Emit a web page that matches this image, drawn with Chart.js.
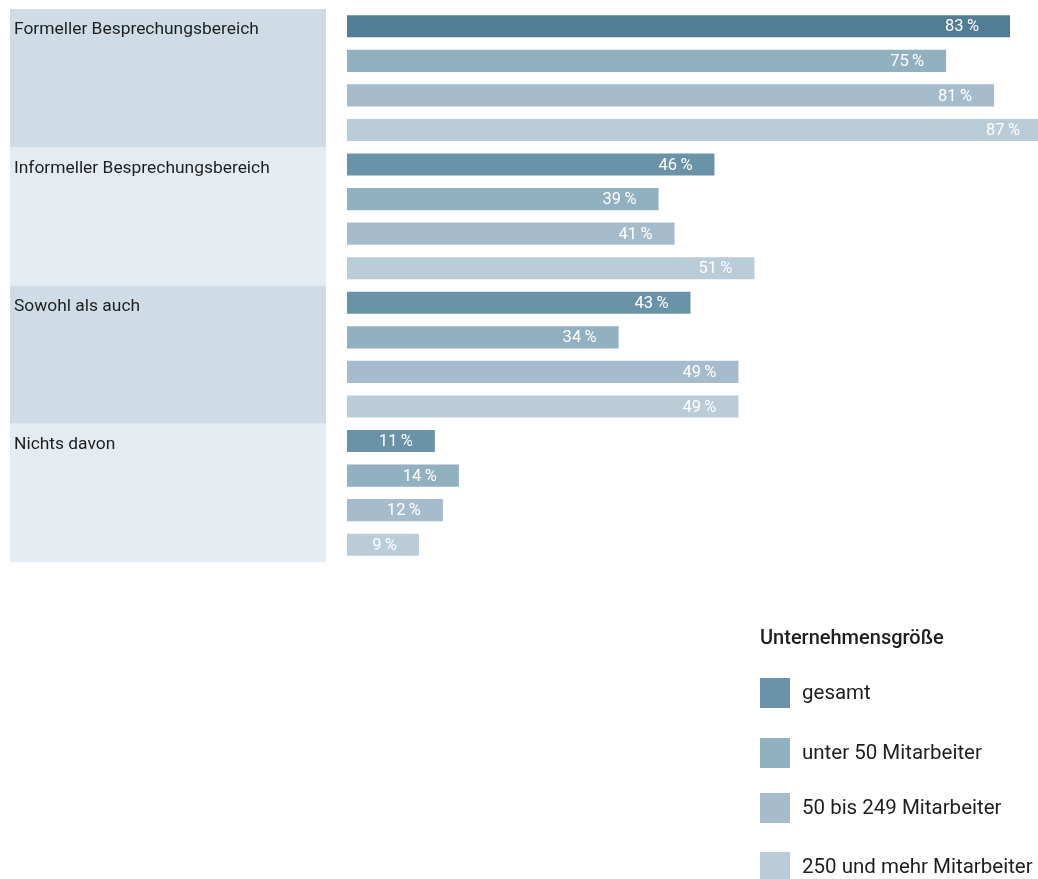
<!DOCTYPE html>
<html>
<head>
<meta charset="utf-8">
<script src="https://cdn.jsdelivr.net/npm/chart.js@4"></script>
<style>
  html, body { margin: 0; padding: 0; background: #ffffff; }
  #wrap { position: absolute; left: 0; top: 0; width: 1038px; height: 879px; }
  #legend { position: absolute; left: 760px; top: 622px; font-family: Roboto, "Noto Sans", sans-serif; color: #1e1e1e; }
  #legend .title { font-size: 20px; font-weight: 500; height: 30px; line-height: 30px; margin-bottom: 26px; white-space: nowrap; }
  #legend .item { position: relative; height: 30px; line-height: 30px; font-size: 20.5px; }
  #legend .sw { position: absolute; left: 0; top: 0; width: 30px; height: 30px; }
  #legend .lbl { position: absolute; left: 42px; top: -1px; white-space: nowrap; }
</style>
</head>
<body>
<div id="wrap"><canvas id="c" width="1038" height="879"></canvas></div>
<div id="legend"></div>
<script>
const categories = ["Formeller Besprechungsbereich", "Informeller Besprechungsbereich", "Sowohl als auch", "Nichts davon"];
const seriesNames = ["gesamt", "unter 50 Mitarbeiter", "50 bis 249 Mitarbeiter", "250 und mehr Mitarbeiter"];
const gesamt   = [83, 46, 43, 11];
const unter50  = [75, 39, 34, 14];
const mittel   = [81, 41, 49, 12];
const gross    = [87, 51, 49, 9];
const legendTitle = "Unternehmensgröße";

const seriesColors = ["#6b93a8", "#91b0c0", "#a6bccd", "#b9ccd8"];
const firstBarColor = "#517e94";
const panelColors = ["#cfdce5", "#e4ecf2"];

const seriesValues = [gesamt, unter50, mittel, gross];

const datasets = seriesValues.map((vals, i) => ({
  label: seriesNames[i],
  data: vals,
  backgroundColor: vals.map((v, j) => (i === 0 && j === 0) ? firstBarColor : seriesColors[i]),
  borderWidth: 0,
  categoryPercentage: 1.0,
  barPercentage: 0.64
}));

const panelPlugin = {
  id: 'panels',
  beforeDraw(chart) {
    const ctx = chart.ctx;
    const y = chart.scales.y;
    const area = chart.chartArea;
    const n = categories.length;
    const h = (area.bottom - area.top) / n;
    ctx.save();
    for (let i = 0; i < n; i++) {
      const top = y.getPixelForValue(i) - h / 2;
      ctx.fillStyle = panelColors[i % 2];
      ctx.fillRect(10, top, 316, h);
      ctx.fillStyle = "#1e1e1e";
      ctx.font = "17.4px Roboto, 'Noto Sans', sans-serif";
      ctx.textBaseline = "middle";
      ctx.textAlign = "left";
      ctx.fillText(categories[i], 14, top + 21);
    }
    ctx.restore();
  }
};

const labelPlugin = {
  id: 'valueLabels',
  afterDatasetsDraw(chart) {
    const ctx = chart.ctx;
    ctx.save();
    ctx.font = "16.5px Roboto, 'Noto Sans', sans-serif";
    ctx.fillStyle = "#ffffff";
    ctx.textAlign = "right";
    ctx.textBaseline = "middle";
    chart.data.datasets.forEach((ds, di) => {
      const meta = chart.getDatasetMeta(di);
      meta.data.forEach((bar, j) => {
        const v = ds.data[j];
        const off = (di === 0 && j === 0) ? 31 : 22;
        ctx.fillText(v + "\u2009%", bar.x - off, bar.y + 1);
      });
    });
    ctx.restore();
  }
};

new Chart(document.getElementById('c'), {
  type: 'bar',
  data: { labels: categories, datasets: datasets },
  options: {
    indexAxis: 'y',
    responsive: false,
    animation: false,
    devicePixelRatio: 1,
    layout: { padding: { left: 347, top: 9, right: 0, bottom: 317 } },
    plugins: { legend: { display: false }, tooltip: { enabled: false } },
    scales: {
      x: { display: false, min: 0, max: 86.5, grid: { display: false } },
      y: { display: false, grid: { display: false } }
    }
  },
  plugins: [panelPlugin, labelPlugin]
});

const leg = document.getElementById('legend');
const t = document.createElement('div');
t.className = 'title';
t.textContent = legendTitle;
leg.appendChild(t);
const gaps = [30, 25, 29, 0];
seriesNames.forEach((name, i) => {
  const it = document.createElement('div');
  it.className = 'item';
  it.style.marginBottom = gaps[i] + 'px';
  const sw = document.createElement('div');
  sw.className = 'sw';
  sw.style.background = seriesColors[i];
  const lb = document.createElement('div');
  lb.className = 'lbl';
  lb.textContent = name;
  it.appendChild(sw);
  it.appendChild(lb);
  leg.appendChild(it);
});
</script>
</body>
</html>
